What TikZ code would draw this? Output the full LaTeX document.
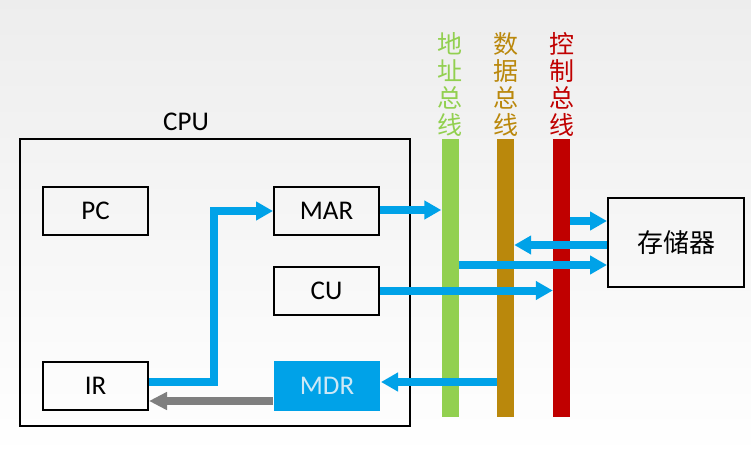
\documentclass[tikz,border=0pt]{standalone}
\usepackage{fontspec}
\setmainfont{Carlito}
\newfontfamily\cjk{Noto Sans CJK SC}
\usetikzlibrary{arrows.meta,calc}
\definecolor{arrblue}{RGB}{0,162,232}
\definecolor{busgreen}{RGB}{146,208,80}
\definecolor{busgold}{RGB}{186,136,12}
\definecolor{busred}{RGB}{192,0,0}
\definecolor{mdrtext}{RGB}{205,232,246}
\definecolor{arrgray}{RGB}{127,127,127}
\tikzset{
  reg/.style={draw, line width=2pt, minimum width=105pt, minimum height=48pt, inner sep=0pt, font=\fontsize{27}{27}\selectfont},
  bus/.style={minimum width=17pt, minimum height=278pt, inner sep=0pt},
  buslbl/.style={align=center, inner sep=0pt, font=\cjk\fontsize{25}{27}\selectfont},
  bar/.style={line width=8pt, arrblue, -{Triangle[length=17pt,width=18pt]}},
  gbar/.style={line width=8pt, arrgray, -{Triangle[length=18pt,width=17pt]}}
}
\begin{document}
\begin{tikzpicture}[x=1pt,y=-1pt]
\shade[top color=gray!14, bottom color=white] (0,0) rectangle (751,457);
\useasboundingbox (0,0) rectangle (751,457);
% CPU
\node[draw, line width=2pt, minimum width=390pt, minimum height=287pt, inner sep=0pt] (cpu) at (215,282.5) {};
\node[font=\fontsize{27}{27}\selectfont] (cpulbl) at (186,122) {CPU};
\node[reg] (PC) at (95.5,211) {PC};
\node[reg] (MAR) at (326.5,211) {MAR};
\node[reg] (CU) at (326.5,290.5) {CU};
\node[reg] (IR) at (95.5,386) {IR};
\node[reg, draw=none, fill=arrblue, text=mdrtext, minimum width=106pt, minimum height=50pt] (MDR) at (327,386) {MDR};
% buses
\node[bus, fill=busgreen] (ab) at (450,278) {};
\node[bus, fill=busgold] (db) at (505.5,278) {};
\node[bus, fill=busred] (cb) at (561.5,278) {};
\node[buslbl, text=busgreen] (ablbl) at (450,84) {地\\址\\总\\线};
\node[buslbl, text=busgold] (dblbl) at (505.5,84) {数\\据\\总\\线};
\node[buslbl, text=busred] (cblbl) at (561.5,84) {控\\制\\总\\线};
% memory
\node[draw, line width=2pt, minimum width=136pt, minimum height=89pt, inner sep=0pt, font=\cjk\fontsize{26}{26}\selectfont] (mem) at (676,242.5) {存储器};
% arrows
\draw[bar] ([yshift=4pt]IR.east) -- ++(65,0) |- (MAR.west);
\draw[bar] ([yshift=1pt]MAR.east) -- ([yshift=1pt]MAR.east -| ab.west);
\draw[bar] (CU.east) -- (CU.east -| cb.west);
\draw[bar] ([yshift=21.5pt]mem.west -| cb.east) -- ([yshift=21.5pt]mem.west);
\draw[bar] ([yshift=-2.5pt]mem.west) -- ([yshift=-2.5pt]mem.west -| db.east);
\draw[bar] ([yshift=-22.5pt]mem.west -| ab.east) -- ([yshift=-22.5pt]mem.west);
\draw[bar] ([yshift=4pt]MDR.east -| db.west) -- ([yshift=4pt]MDR.east);
\draw[gbar] ([yshift=-15pt]MDR.west) -- ([yshift=-15pt]IR.east);
\end{tikzpicture}
\end{document}
